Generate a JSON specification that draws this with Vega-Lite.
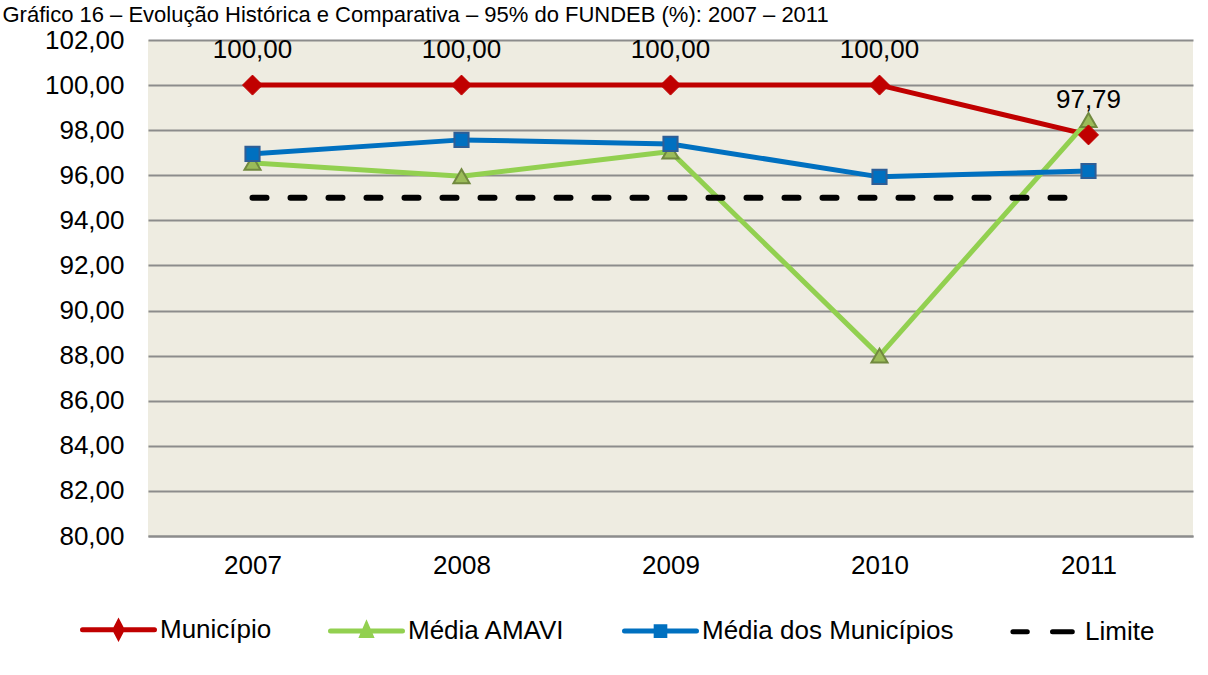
{
  "$schema": "https://vega.github.io/schema/vega-lite/v6.json",
  "width": 1045,
  "height": 496,
  "autosize": {"type": "none"},
  "padding": {"left": 148, "top": 40, "right": 15, "bottom": 139},
  "background": "#FFFFFF",
  "title": {
    "text": "Gráfico 16 – Evolução Histórica e Comparativa – 95% do FUNDEB (%): 2007 – 2011",
    "anchor": "start",
    "dx": -42,
    "dy": 27,
    "offset": 5,
    "baseline": "bottom",
    "font": "Liberation Sans",
    "fontSize": 22,
    "fontWeight": "normal",
    "color": "#000000"
  },
  "config": {
    "locale": {"number": {"decimal": ",", "thousands": ".", "grouping": [3], "currency": ["R$", ""]}},
    "view": {"fill": "#EEECE1", "stroke": null},
    "font": "Liberation Sans"
  },
  "data": {
    "values": [
      {"ano": "2007", "serie": "Município", "valor": 100.0},
      {"ano": "2008", "serie": "Município", "valor": 100.0},
      {"ano": "2009", "serie": "Município", "valor": 100.0},
      {"ano": "2010", "serie": "Município", "valor": 100.0},
      {"ano": "2011", "serie": "Município", "valor": 97.79},
      {"ano": "2007", "serie": "Média AMAVI", "valor": 96.55},
      {"ano": "2008", "serie": "Média AMAVI", "valor": 95.96},
      {"ano": "2009", "serie": "Média AMAVI", "valor": 97.05},
      {"ano": "2010", "serie": "Média AMAVI", "valor": 88.0},
      {"ano": "2011", "serie": "Média AMAVI", "valor": 98.45},
      {"ano": "2007", "serie": "Média dos Municípios", "valor": 96.95},
      {"ano": "2008", "serie": "Média dos Municípios", "valor": 97.57},
      {"ano": "2009", "serie": "Média dos Municípios", "valor": 97.39},
      {"ano": "2010", "serie": "Média dos Municípios", "valor": 95.93},
      {"ano": "2011", "serie": "Média dos Municípios", "valor": 96.19},
      {"ano": "2007", "serie": "Limite", "valor": 95.0},
      {"ano": "2008", "serie": "Limite", "valor": 95.0},
      {"ano": "2009", "serie": "Limite", "valor": 95.0},
      {"ano": "2010", "serie": "Limite", "valor": 95.0},
      {"ano": "2011", "serie": "Limite", "valor": 95.0}
    ]
  },
  "encoding": {
    "x": {
      "field": "ano", "type": "ordinal",
      "scale": {"type": "point", "padding": 0.5},
      "axis": {
        "title": null, "labelAngle": 0, "labelFontSize": 26, "labelColor": "#000000",
        "labelFont": "Liberation Sans", "labelPadding": 16,
        "domain": true, "domainColor": "#8C8C8C", "domainWidth": 2,
        "ticks": false, "grid": false
      }
    },
    "y": {
      "field": "valor", "type": "quantitative",
      "scale": {"domain": [80, 102], "nice": false, "zero": false},
      "axis": {
        "title": null, "values": [80, 82, 84, 86, 88, 90, 92, 94, 96, 98, 100, 102],
        "format": ".2f", "labelFontSize": 26, "labelColor": "#000000",
        "labelFont": "Liberation Sans", "labelPadding": 24,
        "domain": false, "ticks": false,
        "grid": true, "gridColor": "#8C8C8C", "gridWidth": 2
      }
    }
  },
  "layer": [
    {
      "mark": {"type": "point", "filled": true, "size": 0},
      "encoding": {
        "color": {
          "field": "serie", "type": "nominal",
          "scale": {
            "domain": ["Município", "Média AMAVI", "Média dos Municípios", "Limite"],
            "range": ["#C00000", "#92D050", "#0070C0", "#000000"]
          },
          "legend": {
            "orient": "none", "legendX": -68, "legendY": 551, "direction": "horizontal",
            "title": null, "symbolSize": 5184, "symbolStrokeWidth": 5,
            "labelFontSize": 26, "labelFont": "Liberation Sans", "labelColor": "#000000",
            "labelLimit": 500, "columnPadding": 48, "labelOffset": 3, "padding": 0,
            "symbolOpacity": 1,
            "encode": {"symbols": {"update": {
              "stroke": {"scale": "color", "field": "value"},
              "strokeWidth": {"value": 5},
              "strokeCap": {"value": "round"},
              "opacity": {"value": 1}
            }}}
          }
        },
        "shape": {
          "field": "serie", "type": "nominal",
          "scale": {
            "domain": ["Município", "Média AMAVI", "Média dos Municípios", "Limite"],
            "range": [
              "M-1,0H1M-0.1,0L0,-0.19L0.1,0L0,0.19Z",
              "M-1,0H1M-0.12,0.13L0,-0.15L0.12,0.13Z",
              "M-1,0H1M-0.12,-0.12H0.12V0.12H-0.12Z",
              "M-0.85,0H-0.45M0.25,0H0.8"
            ]
          },
          "legend": {
            "orient": "none", "legendX": -68, "legendY": 551, "direction": "horizontal",
            "title": null, "symbolSize": 5184, "symbolStrokeWidth": 5,
            "labelFontSize": 26, "labelFont": "Liberation Sans", "labelColor": "#000000",
            "labelLimit": 500, "columnPadding": 48, "labelOffset": 3, "padding": 0,
            "symbolOpacity": 1,
            "encode": {"symbols": {"update": {
              "stroke": {"scale": "color", "field": "value"},
              "strokeWidth": {"value": 5},
              "strokeCap": {"value": "round"},
              "opacity": {"value": 1}
            }}}
          }
        }
      }
    },
    {
      "transform": [{"filter": "datum.serie === 'Município'"}],
      "mark": {"type": "line", "color": "#C00000", "strokeWidth": 5, "strokeCap": "round", "strokeJoin": "round"},
      "encoding": {}
    },
    {
      "transform": [{"filter": "datum.serie === 'Média AMAVI'"}],
      "mark": {"type": "line", "color": "#92D050", "strokeWidth": 5, "strokeCap": "round", "strokeJoin": "round"},
      "encoding": {}
    },
    {
      "transform": [{"filter": "datum.serie === 'Média dos Municípios'"}],
      "mark": {"type": "line", "color": "#0070C0", "strokeWidth": 5, "strokeCap": "round", "strokeJoin": "round"},
      "encoding": {}
    },
    {
      "transform": [{"filter": "datum.serie === 'Limite'"}],
      "mark": {"type": "line", "color": "#000000", "strokeWidth": 6, "strokeCap": "round", "strokeDash": [14, 24]},
      "encoding": {}
    },
    {
      "transform": [{"filter": "datum.serie === 'Média AMAVI'"}],
      "mark": {"type": "point", "shape": "triangle-up", "size": 260, "filled": true, "fill": "#9BBB59", "stroke": "#71893F", "strokeWidth": 2, "opacity": 1},
      "encoding": {}
    },
    {
      "transform": [{"filter": "datum.serie === 'Média dos Municípios'"}],
      "mark": {"type": "point", "shape": "square", "size": 200, "filled": true, "fill": "#0070C0", "stroke": "#2F5E96", "strokeWidth": 2, "opacity": 1},
      "encoding": {}
    },
    {
      "transform": [{"filter": "datum.serie === 'Município'"}],
      "mark": {"type": "point", "shape": "diamond", "size": 400, "filled": true, "fill": "#C00000", "stroke": "#C00000", "strokeWidth": 1, "opacity": 1},
      "encoding": {}
    },
    {
      "transform": [{"filter": "datum.serie === 'Município'"}],
      "mark": {"type": "text", "dy": -35, "baseline": "middle", "align": "center", "fontSize": 26, "font": "Liberation Sans", "color": "#000000"},
      "encoding": {
        "text": {"field": "valor", "type": "quantitative", "format": ".2f"}
      }
    }
  ]
}
